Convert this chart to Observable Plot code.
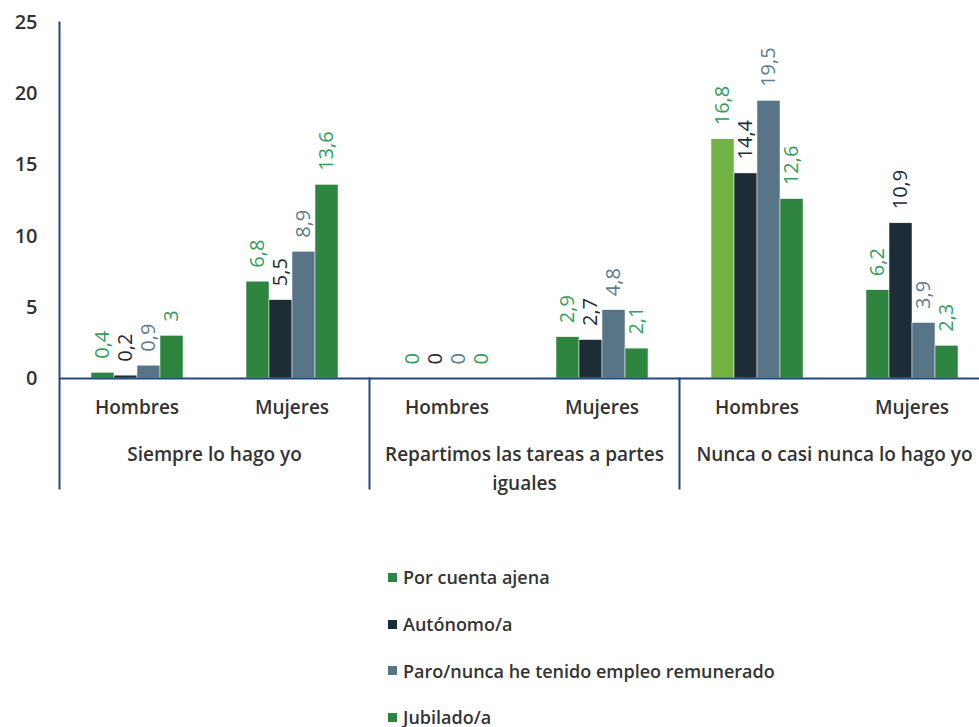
<!DOCTYPE html>
<html><head><meta charset="utf-8">
<script src="https://cdn.jsdelivr.net/npm/d3@7"></script>
<script src="https://cdn.jsdelivr.net/npm/@observablehq/plot@0.6"></script>
<style>
html,body{margin:0;padding:0;background:#fff;overflow:hidden;}
body{font-family:"Open Sans",sans-serif;}
#legend{margin-top:64px;padding-left:388px;}
.item{height:46.7px;display:flex;align-items:center;font-size:18px;font-weight:600;color:#333;}
.sw{width:9px;height:9px;margin-right:6px;flex:none;}
</style></head><body><div id="chart"></div><div id="legend"></div>
<script>
const categories = ["Siempre lo hago yo", "Repartimos las tareas a partes iguales", "Nunca o casi nunca lo hago yo"];
const sexes = ["Hombres", "Mujeres"];
const statuses = ["Por cuenta ajena", "Autónomo/a", "Paro/nunca he tenido empleo remunerado", "Jubilado/a"];
const siempreHombres = [0.4, 0.2, 0.9, 3];
const siempreMujeres = [6.8, 5.5, 8.9, 13.6];
const repartimosHombres = [0, 0, 0, 0];
const repartimosMujeres = [2.9, 2.7, 4.8, 2.1];
const nuncaHombres = [16.8, 14.4, 19.5, 12.6];
const nuncaMujeres = [6.2, 10.9, 3.9, 2.3];
const yTicks = [0, 5, 10, 15, 20, 25];

const barColors = ["#2e8540", "#1d2d38", "#587588", "#2e8540"];
const labelColors = ["#33a05a", "#1d2d38", "#5e7d91", "#33a05a"];
const highlightColor = "#72b343";
const highlight = {category: categories[2], sex: "Hombres", status: statuses[0]};
const axisColor = "#1f4a7d";

const series = [[siempreHombres, siempreMujeres], [repartimosHombres, repartimosMujeres], [nuncaHombres, nuncaMujeres]];
const rows = [];
categories.forEach((c, ci) => sexes.forEach((s, si) => statuses.forEach((st, k) => {
  const isHi = c === highlight.category && s === highlight.sex && st === highlight.status;
  rows.push({key: c + "|" + s, category: c, sex: s, status: st, value: series[ci][si][k],
    fill: isHi ? highlightColor : barColors[k], labelFill: labelColors[k]});
})));
const keys = categories.flatMap(c => sexes.map(s => c + "|" + s));
const fmt = v => String(v).replace(".", ",");

const W = 991, H = 490, mTop = 22, mBottom = 112, mLeft = 57;
const plotH = H - mTop - mBottom;
const below = 110;

const chart = Plot.plot({
  width: W, height: H, marginTop: mTop, marginBottom: mBottom, marginLeft: mLeft, marginRight: 0,
  style: {fontFamily: "'Open Sans', sans-serif", background: "white", maxWidth: "none", overflow: "visible"},
  fx: {domain: keys, padding: 0, label: null},
  x: {domain: statuses, paddingInner: 0, paddingOuter: 1.35, axis: null},
  y: {domain: [0, 25], label: null, axis: null},
  color: {type: "identity"},
  marks: [
    Plot.barY(rows, {fx: "key", x: "status", y: "value", fill: "fill", stroke: "white", strokeWidth: 0.5, inset: 0}),
    Plot.ruleY([0], {stroke: axisColor, strokeWidth: 2}),
    Plot.text(rows, {fx: "key", x: "status", y: "value", text: d => fmt(d.value), rotate: -90, textAnchor: "start", dy: -14, fill: "labelFill", fontSize: 20, letterSpacing: 1}),
    Plot.axisY({ticks: yTicks, tickSize: 0, tickPadding: 22, fontSize: 20, fontWeight: 600, fill: "#333", label: null, tickFormat: d => String(d)}),
    Plot.axisFx({anchor: "bottom", tickSize: 0, tickPadding: 22, tickFormat: d => d.split("|")[1], fontSize: 19, fontWeight: 600, fill: "#333", label: null}),
    Plot.text(categories, {fx: d => d + "|Hombres", frameAnchor: "bottom-right", text: d => d, textAnchor: "middle", lineAnchor: "top", dy: 62, lineWidth: 15, lineHeight: 1.53, fontSize: 19, fontWeight: 600, fill: "#333"}),
    Plot.frame({anchor: "left", fx: [keys[0]], stroke: axisColor, strokeWidth: 2, insetBottom: -below}),
    Plot.frame({anchor: "left", fx: [keys[2]], stroke: axisColor, strokeWidth: 2, insetTop: plotH, insetBottom: -below}),
    Plot.frame({anchor: "left", fx: [keys[4]], stroke: axisColor, strokeWidth: 2, insetTop: plotH, insetBottom: -below})
  ]
});
document.getElementById("chart").appendChild(chart);

const legend = document.getElementById("legend");
statuses.forEach((s, i) => {
  const it = document.createElement("div");
  it.className = "item";
  const sw = document.createElement("span");
  sw.className = "sw";
  sw.style.background = barColors[i];
  it.appendChild(sw);
  it.appendChild(document.createTextNode(s));
  legend.appendChild(it);
});
</script></body></html>
